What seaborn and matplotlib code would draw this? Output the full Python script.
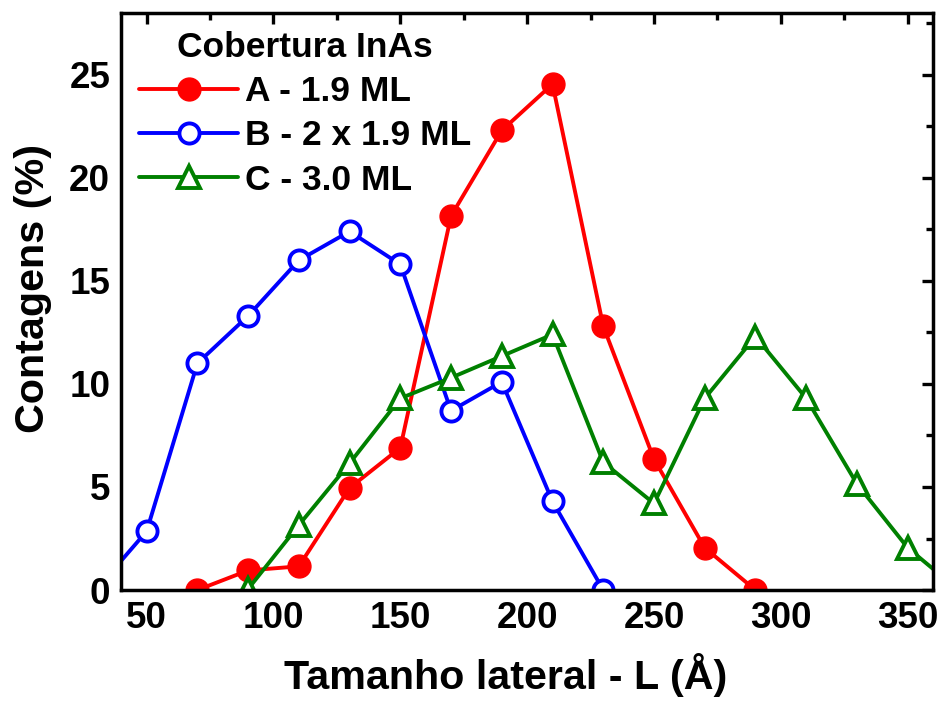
import matplotlib
matplotlib.use("Agg")
import matplotlib.pyplot as plt
import seaborn as sns
import pandas as pd
from matplotlib.ticker import MultipleLocator

# Data
x_a = [70, 90, 110, 130, 150, 170, 190, 210, 230, 250, 270, 290]
y_a = [0.0, 0.95, 1.15, 4.95, 6.9, 18.15, 22.3, 24.55, 12.8, 6.35, 2.05, 0.0]

x_b = [30, 50, 70, 90, 110, 130, 150, 170, 190, 210, 230]
y_b = [0.0, 2.85, 11.0, 13.3, 16.0, 17.4, 15.8, 8.7, 10.1, 4.3, 0.0]

x_c = [90, 110, 130, 150, 170, 190, 210, 230, 250, 270, 290, 310, 330, 350, 370]
y_c = [0.05, 3.15, 6.15, 9.3, 10.3, 11.35, 12.4, 6.2, 4.2, 9.3, 12.3, 9.3, 5.15, 2.05, 0.0]

labels = ["A - 1.9 ML", "B - 2 x 1.9 ML", "C - 3.0 ML"]
legend_title = "Cobertura InAs"
xlabel = "Tamanho lateral - L (Å)"
ylabel = "Contagens (%)"

sns.set_theme(style="white")
plt.rcParams["font.family"] = ["Liberation Sans", "DejaVu Sans"]
plt.rcParams["font.weight"] = "bold"
for k in ["text.color", "axes.labelcolor", "xtick.color", "ytick.color", "axes.edgecolor"]:
    plt.rcParams[k] = "black"

fig = plt.figure(figsize=(9.4, 7.02), dpi=100)
ax = fig.add_axes([0.129, 0.1595, 0.8636, 0.822])

df_a = pd.DataFrame({"x": x_a, "y": y_a})
df_b = pd.DataFrame({"x": x_b, "y": y_b})
df_c = pd.DataFrame({"x": x_c, "y": y_c})

lw = 2.8
sns.lineplot(data=df_a, x="x", y="y", ax=ax, color="#ff0000", lw=lw,
             marker="o", markersize=16.5, markerfacecolor="#ff0000",
             markeredgecolor="#ff0000", markeredgewidth=1, label=labels[0])
sns.lineplot(data=df_b, x="x", y="y", ax=ax, color="#0000ff", lw=lw,
             marker="o", markersize=14.5, markerfacecolor="white",
             markeredgecolor="#0000ff", markeredgewidth=2.8, label=labels[1])
sns.lineplot(data=df_c, x="x", y="y", ax=ax, color="#008000", lw=lw,
             marker="^", markersize=16, markerfacecolor="white",
             markeredgecolor="#008000", markeredgewidth=2.8, label=labels[2])

ax.set_xlim(40, 360)
ax.set_ylim(0, 28)
ax.xaxis.set_major_locator(MultipleLocator(50))
ax.xaxis.set_minor_locator(MultipleLocator(25))
ax.yaxis.set_major_locator(MultipleLocator(5))
ax.yaxis.set_minor_locator(MultipleLocator(2.5))

ax.tick_params(which="both", direction="in", top=True, right=True,
               width=2.4, color="black")
ax.tick_params(which="major", length=8, labelsize=26.5, pad=8)
ax.tick_params(which="minor", length=5)
for lab in ax.get_xticklabels() + ax.get_yticklabels():
    lab.set_fontweight("bold")

for s in ax.spines.values():
    s.set_linewidth(2.5)
    s.set_color("black")

ax.set_xlabel(xlabel, fontsize=29.7, fontweight="bold", labelpad=12, x=0.474)
ax.set_ylabel(ylabel, fontsize=29.7, fontweight="bold", labelpad=12, y=0.522)

leg = ax.legend(title=legend_title, loc="upper left", frameon=False,
                fontsize=25.5, title_fontsize=25.5, handlelength=2.8,
                handletextpad=0.2, labelspacing=0.32, borderaxespad=0.3,
                borderpad=0.2)
leg.get_title().set_fontweight("bold")
for t in leg.get_texts():
    t.set_fontweight("bold")

fig.savefig("out.png", dpi=100)
